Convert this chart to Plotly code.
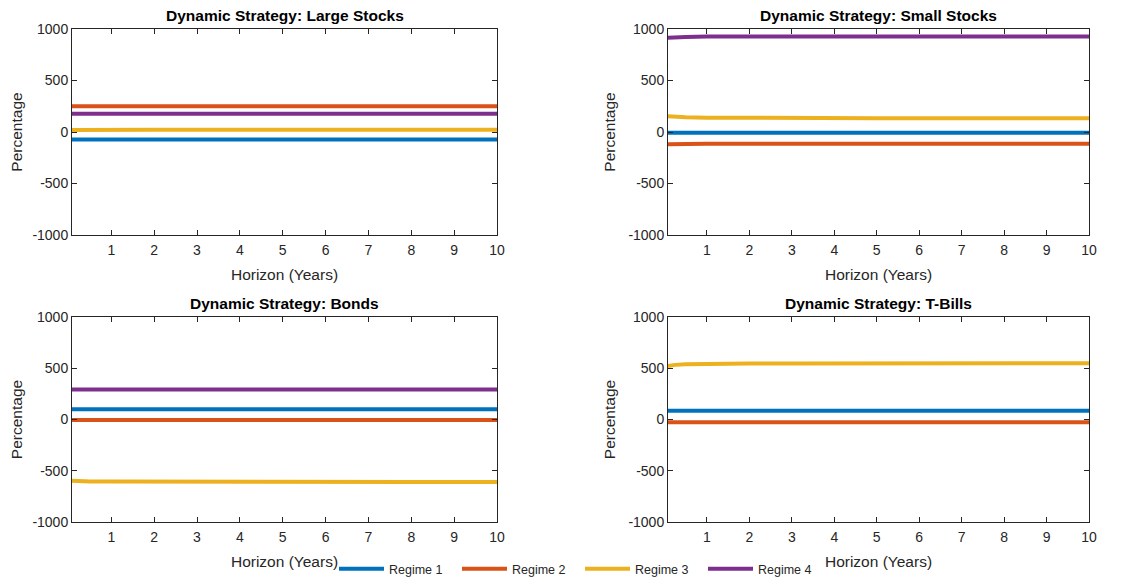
import plotly.graph_objects as go

# Horizon points (years)
horizon = [0.0833, 0.25, 0.5, 1, 2, 3, 4, 5, 6, 7, 8, 9, 10]
x_ticks = [1, 2, 3, 4, 5, 6, 7, 8, 9, 10]
y_ticks = [-1000, -500, 0, 500, 1000]
y_tick_labels = ["-1000", "-500", "0", "500", "1000"]

regimes = ["Regime 1", "Regime 2", "Regime 3", "Regime 4"]
colors = ["#0072BD", "#D95319", "#EDB120", "#7E2F8E"]

# Large Stocks
large_r1 = [-72, -72, -72, -72, -72, -72, -72, -72, -72, -72, -72, -72, -72]
large_r2 = [250, 250, 250, 250, 250, 250, 250, 250, 250, 250, 250, 250, 250]
large_r3 = [20, 21, 22, 22, 22, 22, 22, 22, 22, 22, 22, 22, 22]
large_r4 = [178, 178, 178, 178, 178, 178, 178, 178, 178, 178, 178, 178, 178]

# Small Stocks
small_r1 = [-8, -8, -8, -8, -8, -8, -8, -8, -8, -8, -8, -8, -8]
small_r2 = [-120, -118, -116, -114, -113, -113, -113, -113, -113, -113, -113, -113, -113]
small_r3 = [152, 147, 143, 139, 136, 135, 134, 134, 134, 134, 134, 134, 134]
small_r4 = [915, 920, 923, 926, 927, 927, 927, 927, 927, 927, 927, 927, 927]

# Bonds
bonds_r1 = [100, 100, 100, 100, 100, 100, 100, 100, 100, 100, 100, 100, 100]
bonds_r2 = [-5, -5, -5, -5, -5, -5, -5, -5, -5, -5, -5, -5, -5]
bonds_r3 = [-597, -601, -604, -606, -608, -609, -610, -610, -610, -610, -610, -610, -610]
bonds_r4 = [293, 293, 293, 293, 293, 293, 293, 293, 293, 293, 293, 293, 293]

# T-Bills
tbills_r1 = [85, 85, 85, 85, 85, 85, 85, 85, 85, 85, 85, 85, 85]
tbills_r2 = [-28, -28, -28, -28, -28, -28, -28, -28, -28, -28, -28, -28, -28]
tbills_r3 = [522, 533, 539, 543, 546, 547, 548, 549, 549, 550, 550, 550, 550]
tbills_r4 = [-1300, -1300, -1300, -1300, -1300, -1300, -1300, -1300, -1300, -1300, -1300, -1300, -1300]

panels = [
    ("Dynamic Strategy: Large Stocks", [large_r1, large_r2, large_r3, large_r4]),
    ("Dynamic Strategy: Small Stocks", [small_r1, small_r2, small_r3, small_r4]),
    ("Dynamic Strategy: Bonds", [bonds_r1, bonds_r2, bonds_r3, bonds_r4]),
    ("Dynamic Strategy: T-Bills", [tbills_r1, tbills_r2, tbills_r3, tbills_r4]),
]

# page body has an 8px margin; figure sized to fit the window exactly
OFF = 8
W, H = 1147 - 2 * OFF, 586 - 2 * OFF


def px_x(p):
    return (p - OFF) / W


def px_y(p):
    return (H - (p - OFF)) / H


xdoms = [[px_x(72), px_x(497)], [px_x(668), px_x(1089)]]
ydoms = [[px_y(235), px_y(29)], [px_y(522), px_y(317)]]

fig = go.Figure()
axc = "#262626"
font = "Liberation Sans, Arial, Helvetica, sans-serif"

annotations = []
for i, (title, series) in enumerate(panels):
    row, col = divmod(i, 2)
    xa = "x" if i == 0 else f"x{i+1}"
    ya = "y" if i == 0 else f"y{i+1}"
    for j, vals in enumerate(series):
        fig.add_trace(go.Scatter(
            x=horizon, y=vals, mode="lines", name=regimes[j],
            line=dict(color=colors[j], width=4, shape="linear"),
            xaxis=xa, yaxis=ya, showlegend=(i == 0), legendgroup=regimes[j],
        ))
    xkey = "xaxis" if i == 0 else f"xaxis{i+1}"
    ykey = "yaxis" if i == 0 else f"yaxis{i+1}"
    fig.update_layout(**{
        xkey: dict(domain=xdoms[col], anchor=ya, range=[0.0833, 10], automargin=False,
                   tickvals=x_ticks, ticks="inside", ticklen=5, tickcolor=axc,
                   showline=True, linecolor=axc, linewidth=1, mirror="ticks",
                   showgrid=False, zeroline=False, ticklabelstandoff=2,
                   tickfont=dict(size=14, color=axc, family=font),
                   title=dict(text="Horizon (Years)", font=dict(size=15.5, color=axc, family=font), standoff=12)),
        ykey: dict(domain=ydoms[row], anchor=xa, range=[-1000, 1000], automargin=False,
                   tickvals=y_ticks, ticktext=y_tick_labels, ticks="inside", ticklen=5, tickcolor=axc,
                   showline=True, linecolor=axc, linewidth=1, mirror="ticks",
                   showgrid=False, zeroline=False,
                   tickfont=dict(size=14, color=axc, family=font),
                   title=dict(text="Percentage", font=dict(size=15.5, color=axc, family=font), standoff=8)),
    })
    annotations.append(dict(
        text=f"<b>{title}</b>", x=sum(xdoms[col]) / 2, y=ydoms[row][1], xref="paper", yref="paper",
        xanchor="center", yanchor="bottom", yshift=3, showarrow=False,
        font=dict(size=15.5, color="#000000", family=font)))

fig.update_layout(
    template="none",
    width=W, height=H, margin=dict(l=0, r=0, t=0, b=0, autoexpand=False),
    paper_bgcolor="white", plot_bgcolor="white",
    annotations=annotations,
    legend=dict(orientation="h", x=px_x(580), xanchor="center", y=-6 / H, yanchor="bottom",
                font=dict(size=12.5, color=axc, family=font), itemwidth=45,
                entrywidth=63, entrywidthmode="pixels",
                tracegroupgap=0, bgcolor="rgba(0,0,0,0)"),
    font=dict(family=font, color=axc),
)

fig.write_html("out.html")
